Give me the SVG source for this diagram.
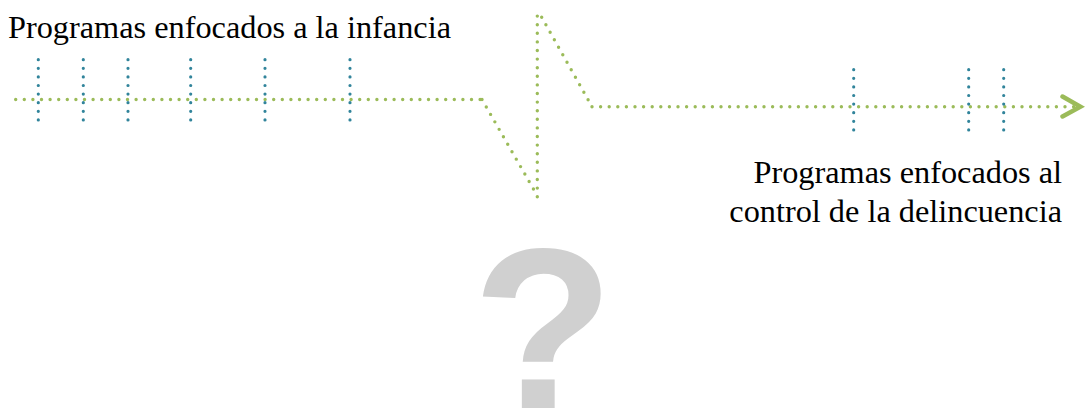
<svg xmlns="http://www.w3.org/2000/svg" width="1085" height="408" viewBox="0 0 1085 408">
<style>
.g{fill:none;stroke:#9BBB59;stroke-width:3.4;stroke-linecap:round;stroke-dasharray:0 8.6}
.t{fill:none;stroke:#31849B;stroke-width:3.2;stroke-linecap:round;stroke-dasharray:0 8.6}
.lbl{font-family:"Liberation Serif","Times New Roman",serif;font-size:32.3px;fill:#000}
</style>
<rect width="1085" height="408" fill="#fff"/>
<g id="connectors">
<path class="g" d="M15.7,99.5 H482"/>
<path class="g" d="M482,99.5 L534,190"/>
<path class="g" d="M537.3,196.7 V10"/>
<path class="g" d="M541.7,17.3 L592,106.7"/>
<path class="g" d="M592,106.7 H1075"/>
<polyline points="1062.5,96.5 1080.5,106.7 1062.5,116.5" fill="none" stroke="#9BBB59" stroke-width="4.5" stroke-linecap="round" stroke-linejoin="miter"/>
</g>
<g id="ticks-left">
<path class="t" d="M38.3,59.7 V128.5"/>
<path class="t" d="M83.3,59.7 V128.5"/>
<path class="t" d="M128,59.7 V128.5"/>
<path class="t" d="M190.7,59.7 V128.5"/>
<path class="t" d="M265,59.7 V128.5"/>
<path class="t" d="M350,59.7 V128.5"/>
</g>
<g id="ticks-right">
<path class="t" d="M853.7,69.7 V138.5"/>
<path class="t" d="M968.7,69.7 V138.5"/>
<path class="t" d="M1003.7,69.7 V138.5"/>
</g>
<g id="label-infancia">
<text class="lbl" x="8" y="37.7">Programas enfocados a la infancia</text>
</g>
<g id="label-delincuencia">
<text class="lbl" text-anchor="end" x="1062" y="183">Programas enfocados al</text>
<text class="lbl" text-anchor="end" x="1062" y="221.7">control de la delincuencia</text>
</g>
<g id="question">
<text x="543" y="410" text-anchor="middle" font-family="Liberation Sans, Arial, sans-serif" font-weight="bold" font-size="232" fill="#D0D0D0">?</text>
</g>
</svg>
